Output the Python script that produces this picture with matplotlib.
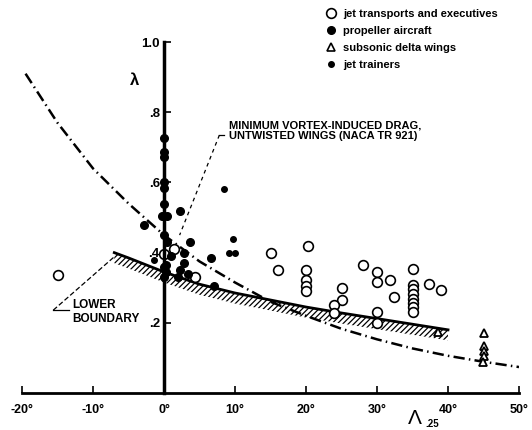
import matplotlib.pyplot as plt
from matplotlib.lines import Line2D

plt.rcParams['font.family'] = ['Liberation Sans', 'DejaVu Sans']
plt.rcParams['font.weight'] = 'bold'
plt.rcParams['hatch.linewidth'] = 0.9

# jet transports and executives (open circles)
jet_x = [-15, 0, 1.4, 4.4, 15, 16, 20.3, 20, 20, 20, 20, 25, 25, 24, 24,
         28, 30, 30, 31.8, 32.4, 30, 30, 35, 35, 35, 35, 35, 35, 35, 35, 37.3, 39]
jet_y = [0.335, 0.395, 0.41, 0.33, 0.40, 0.35, 0.42, 0.35, 0.323, 0.305, 0.29,
         0.30, 0.265, 0.25, 0.228, 0.365, 0.345, 0.316, 0.322, 0.274, 0.231, 0.199,
         0.353, 0.308, 0.295, 0.282, 0.269, 0.256, 0.244, 0.231, 0.31, 0.294]

# propeller aircraft (large filled dots)
prop_x = [0, 0, 0, 0, 0, 0, -0.3, 0.4, 2.2, -2.8, 0.4, 3.6, 1, 2.8, 2.8,
          0.3, 0.3, 2.2, 2, 3.4, 0, 6.6, 7, 0, 0]
prop_y = [0.727, 0.687, 0.673, 0.60, 0.585, 0.54, 0.505, 0.505, 0.52, 0.48,
          0.43, 0.43, 0.39, 0.40, 0.37, 0.365, 0.345, 0.35, 0.33, 0.34, 0.33,
          0.385, 0.305, 0.45, 0.36]

# jet trainers (small dots)
trainer_x = [8.4, 9.7, 9.2, 10, -1.4]
trainer_y = [0.58, 0.44, 0.40, 0.40, 0.38]

# subsonic delta wings (open triangles)
delta_x = [38.6, 45, 45.1, 45, 45, 44.9]
delta_y = [0.174, 0.17, 0.134, 0.12, 0.105, 0.088]

# minimum vortex-induced drag curve
naca_x = [-19.5, -15, -10, -5, 0, 5, 10, 15, 20, 25, 30, 35, 40, 45, 50]
naca_y = [0.91, 0.77, 0.64, 0.54, 0.45, 0.375, 0.315, 0.26, 0.22, 0.183,
          0.153, 0.127, 0.106, 0.089, 0.074]

# lower boundary
low_x = [-7, -5, 0, 5, 10, 15, 20, 25, 30, 35, 40]
low_y = [0.40, 0.385, 0.345, 0.31, 0.285, 0.265, 0.245, 0.228, 0.212, 0.196, 0.18]
band = 0.03

x_ticks = [-20, -10, 0, 10, 20, 30, 40, 50]
y_ticks = [0.2, 0.4, 0.6, 0.8, 1.0]
y_ticklabels = ['.2', '.4', '.6', '.8', '1.0']

fig = plt.figure(figsize=(5.32, 4.30), dpi=100)
ax = fig.add_axes([22 / 532, 37 / 430, 497 / 532, 373 / 430])
ax.set_xlim(-20, 50)
ax.set_ylim(0, 1.063)

for s in ['top', 'right']:
    ax.spines[s].set_visible(False)
ax.spines['left'].set_position(('data', 0))
ax.spines['left'].set_bounds(0, 1.0)
ax.spines['left'].set_linewidth(2.5)
ax.spines['bottom'].set_linewidth(2)

ax.set_xticks(x_ticks)
ax.set_xticklabels([f'{t}\u00b0' for t in x_ticks], fontsize=9)
ax.set_yticks(y_ticks)
ax.set_yticklabels(y_ticklabels, fontsize=9.5)
ax.tick_params(axis='both', direction='in', length=5, width=1.2)
ax.tick_params(axis='x', pad=8)
ax.tick_params(axis='y', pad=3)

# lower boundary with hatch
low_lo = [v - band for v in low_y]
ax.fill_between(low_x, low_lo, low_y, facecolor='none', edgecolor='black',
                hatch='//////', linewidth=0)
ax.plot(low_x, low_y, color='black', lw=2)

# NACA TR 921 curve
ax.plot(naca_x, naca_y, color='black', lw=1.8, linestyle=(0, (4.5, 1.7, 0.6, 1.7)))

ms_kw = dict(linestyle='none', color='black')
ax.plot(jet_x, jet_y, marker='o', ms=7, mfc='white', mew=1.2, **ms_kw)
ax.plot(prop_x, prop_y, marker='o', ms=5.5, **ms_kw)
ax.plot(trainer_x, trainer_y, marker='o', ms=4, **ms_kw)
ax.plot(delta_x, delta_y, marker='^', ms=5.5, mfc='white', mew=1.3, **ms_kw)

# annotations
ax.text(9.2, 0.747, 'MINIMUM VORTEX-INDUCED DRAG,\nUNTWISTED WINGS (NACA TR 921)',
        fontsize=8, va='center', ha='left', linespacing=1.1)
ax.plot([7.8, 8.5], [0.735, 0.735], color='black', lw=0.9)
ax.plot([7.8, 2.2], [0.735, 0.45], color='black', lw=0.9, linestyle=(0, (3, 3)))

ax.text(-12.9, 0.23, 'LOWER\nBOUNDARY', fontsize=8.5, va='center', ha='left',
        linespacing=1.2)
ax.plot([-15.6, -13.4], [0.236, 0.236], color='black', lw=0.9)
ax.plot([-15.6, -6.9], [0.236, 0.39], color='black', lw=0.9, linestyle=(0, (4, 2)))

ax.text(-4.2, 0.89, '\u03bb', fontsize=12, ha='center', va='center')
ax.text(35.3, -0.072, '\u039b', fontsize=15, ha='center', va='center',
        fontweight='normal', clip_on=False)
ax.text(36.8, -0.088, '.25', fontsize=7, ha='left', va='center', clip_on=False)

handles = [
    Line2D([], [], marker='o', ms=7, mfc='white', mew=1.2, **ms_kw),
    Line2D([], [], marker='o', ms=5.5, **ms_kw),
    Line2D([], [], marker='^', ms=5.5, mfc='white', mew=1.2, **ms_kw),
    Line2D([], [], marker='o', ms=4, **ms_kw),
]
labels = ['jet transports and executives', 'propeller aircraft',
          'subsonic delta wings', 'jet trainers']
fig.legend(handles, labels, loc='upper left', bbox_to_anchor=(323 / 532, 1 - 7 / 430),
           frameon=False, fontsize=8, handlelength=1.0, handletextpad=0.6,
           labelspacing=0.62, borderaxespad=0, borderpad=0.2)

fig.savefig('out.png', dpi=100)
